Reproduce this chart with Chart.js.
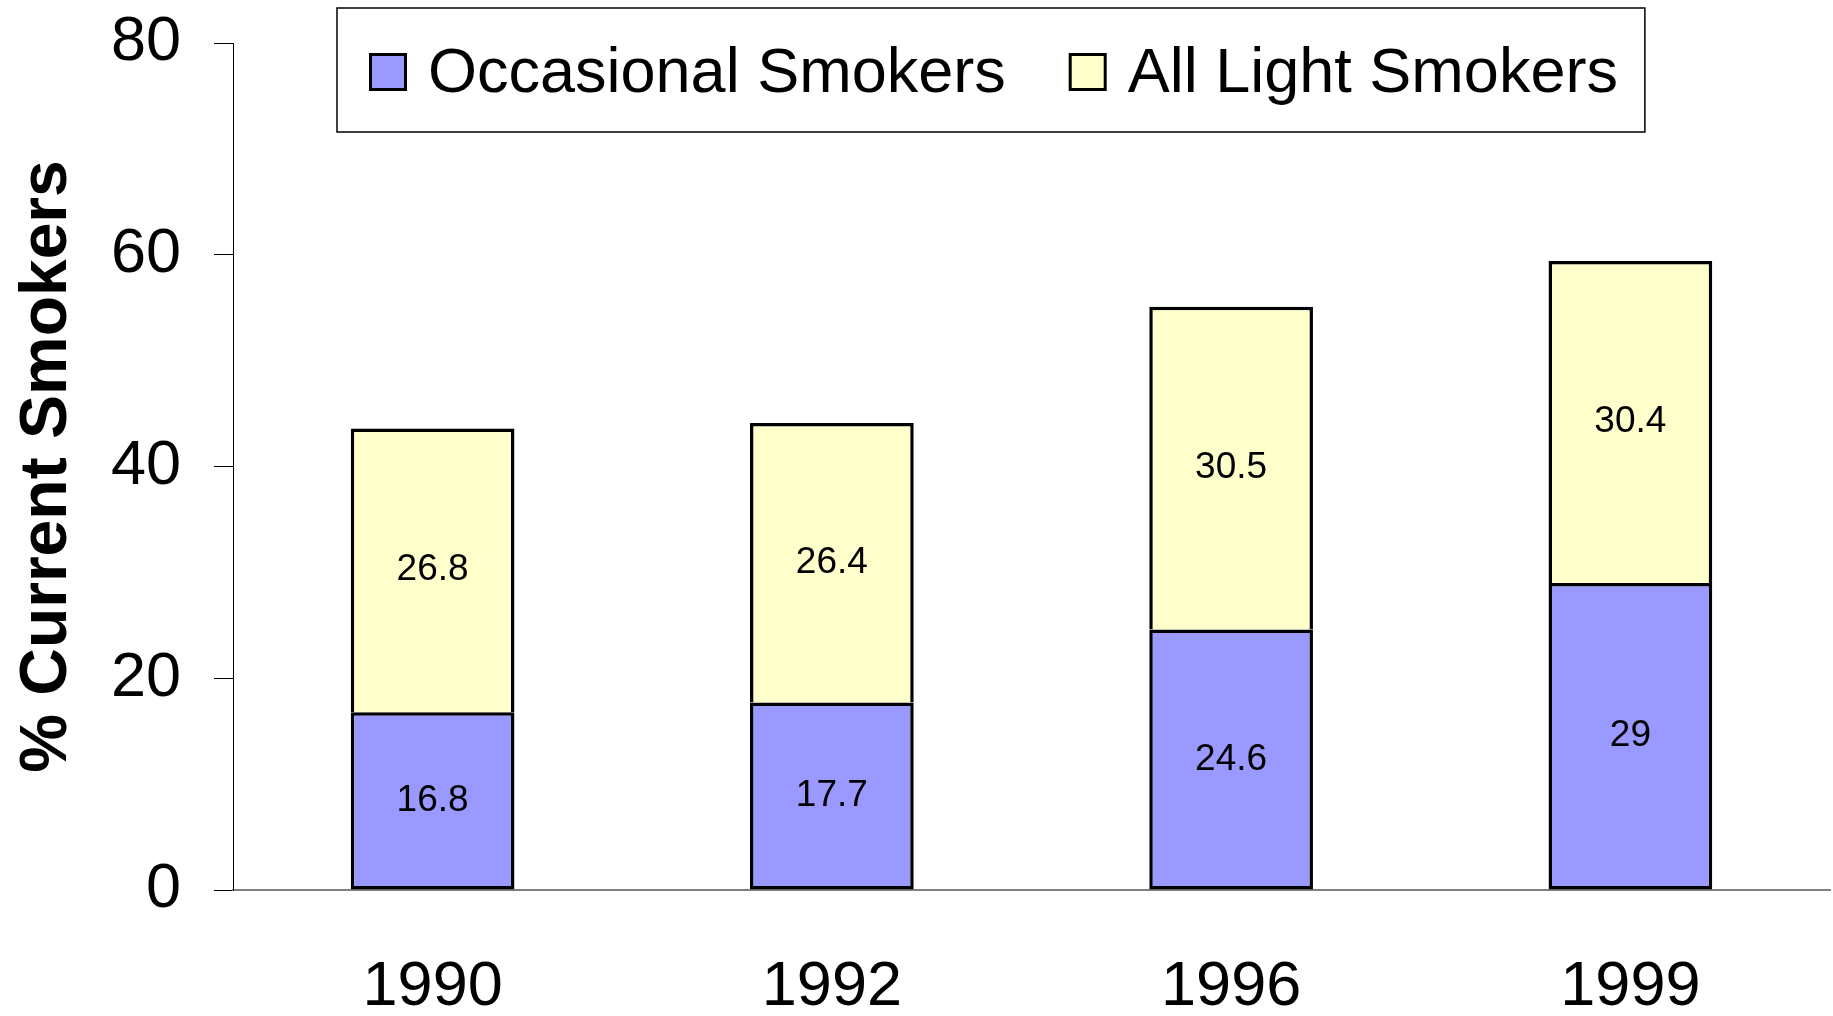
<!DOCTYPE html>
<html>
<head>
<meta charset="utf-8">
<script src="https://cdn.jsdelivr.net/npm/chart.js@4/dist/chart.umd.min.js"></script>
<style>
  html, body { margin: 0; padding: 0; background: #fff; }
  #chartContainer { width: 1833px; height: 1016px; }
</style>
</head>
<body>
<div id="chartContainer"><canvas id="chart" width="1833" height="1016"></canvas></div>
<script>
const years = ["1990", "1992", "1996", "1999"];
const occasionalSmokers = [16.8, 17.7, 24.6, 29];
const allLightSmokers = [26.8, 26.4, 30.5, 30.4];
const seriesNames = ["Occasional Smokers", "All Light Smokers"];

const FONT = "'Liberation Sans', Arial, Helvetica, sans-serif";

// value in the middle of each bar segment
const segmentLabels = {
  id: "segmentLabels",
  afterDatasetsDraw(chart) {
    const ctx = chart.ctx;
    ctx.save();
    ctx.font = "37px " + FONT;
    ctx.fillStyle = "#000";
    ctx.textAlign = "center";
    ctx.textBaseline = "middle";
    chart.data.datasets.forEach((ds, i) => {
      chart.getDatasetMeta(i).data.forEach((bar, j) => {
        const y = (bar.y + bar.base) / 2;
        ctx.fillText(String(ds.data[j]), bar.x, y);
      });
    });
    ctx.restore();
  },
};

// legend drawn inside a framed box over the plot
const boxedLegend = {
  id: "boxedLegend",
  afterDraw(chart) {
    const ctx = chart.ctx;
    const sw = 38, cy = 72, gap = 21, itemGap = 63;
    ctx.save();
    ctx.font = "63px " + FONT;
    ctx.textBaseline = "middle";
    let width = 0;
    chart.data.datasets.forEach((ds, i) => {
      width += sw + gap + ctx.measureText(ds.label).width;
      if (i > 0) width += itemGap;
    });
    const left = 337, top = 8, padX = 32;
    ctx.lineWidth = 1.5;
    ctx.strokeStyle = "#000";
    ctx.strokeRect(left, top, width + padX * 2 - 5, 124);

    let x = left + padX;
    chart.data.datasets.forEach((ds) => {
      ctx.fillStyle = ds.backgroundColor;
      ctx.fillRect(x, cy - sw / 2, sw, sw);
      ctx.lineWidth = 3;
      ctx.strokeRect(x + 1.5, cy - sw / 2 + 1.5, sw - 3, sw - 3);
      x += sw + gap;
      ctx.fillStyle = "#000";
      ctx.fillText(ds.label, x, cy + 3);
      x += ctx.measureText(ds.label).width + itemGap;
    });
    ctx.restore();
  },
};

const ctx = document.getElementById("chart").getContext("2d");
new Chart(ctx, {
  type: "bar",
  data: {
    labels: years,
    datasets: [
      {
        label: seriesNames[0],
        data: occasionalSmokers,
        backgroundColor: "#9999FF",
        borderColor: "#000",
        borderWidth: 3.5,
        borderSkipped: false,
      },
      {
        label: seriesNames[1],
        data: allLightSmokers,
        backgroundColor: "#FFFFCC",
        borderColor: "#000",
        borderWidth: 3.5,
        borderSkipped: "bottom",
      },
    ],
  },
  options: {
    responsive: false,
    animation: false,
    layout: { padding: { top: 43, right: 3, left: 0, bottom: 0 } },
    categoryPercentage: 1,
    barPercentage: 0.41,
    plugins: {
      legend: { display: false },
      tooltip: { enabled: false },
    },
    scales: {
      x: {
        stacked: true,
        grid: { display: true, drawOnChartArea: false, drawTicks: false },
        border: { display: true, color: "#808080", width: 2 },
        ticks: { color: "#000", font: { family: FONT, size: 63 }, padding: 60 },
        afterFit: (scale) => { scale.height = 126; },
      },
      y: {
        stacked: true,
        min: 0,
        max: 80,
        grid: { drawOnChartArea: false, color: "#000", tickLength: 19 },
        border: { display: true, color: "#000", width: 1 },
        ticks: { stepSize: 20, color: "#000", font: { family: FONT, size: 63 }, padding: 33 },
        title: {
          display: true,
          text: "% Current Smokers",
          color: "#000",
          font: { family: FONT, size: 66, weight: "bold" },
          padding: { top: 8, bottom: 0 },
        },
        afterFit: (scale) => {
          scale.width = 233;
          scale.paddingTop = 0;
          scale.paddingBottom = 0;
        },
      },
    },
  },
  plugins: [segmentLabels, boxedLegend],
});
</script>
</body>
</html>
